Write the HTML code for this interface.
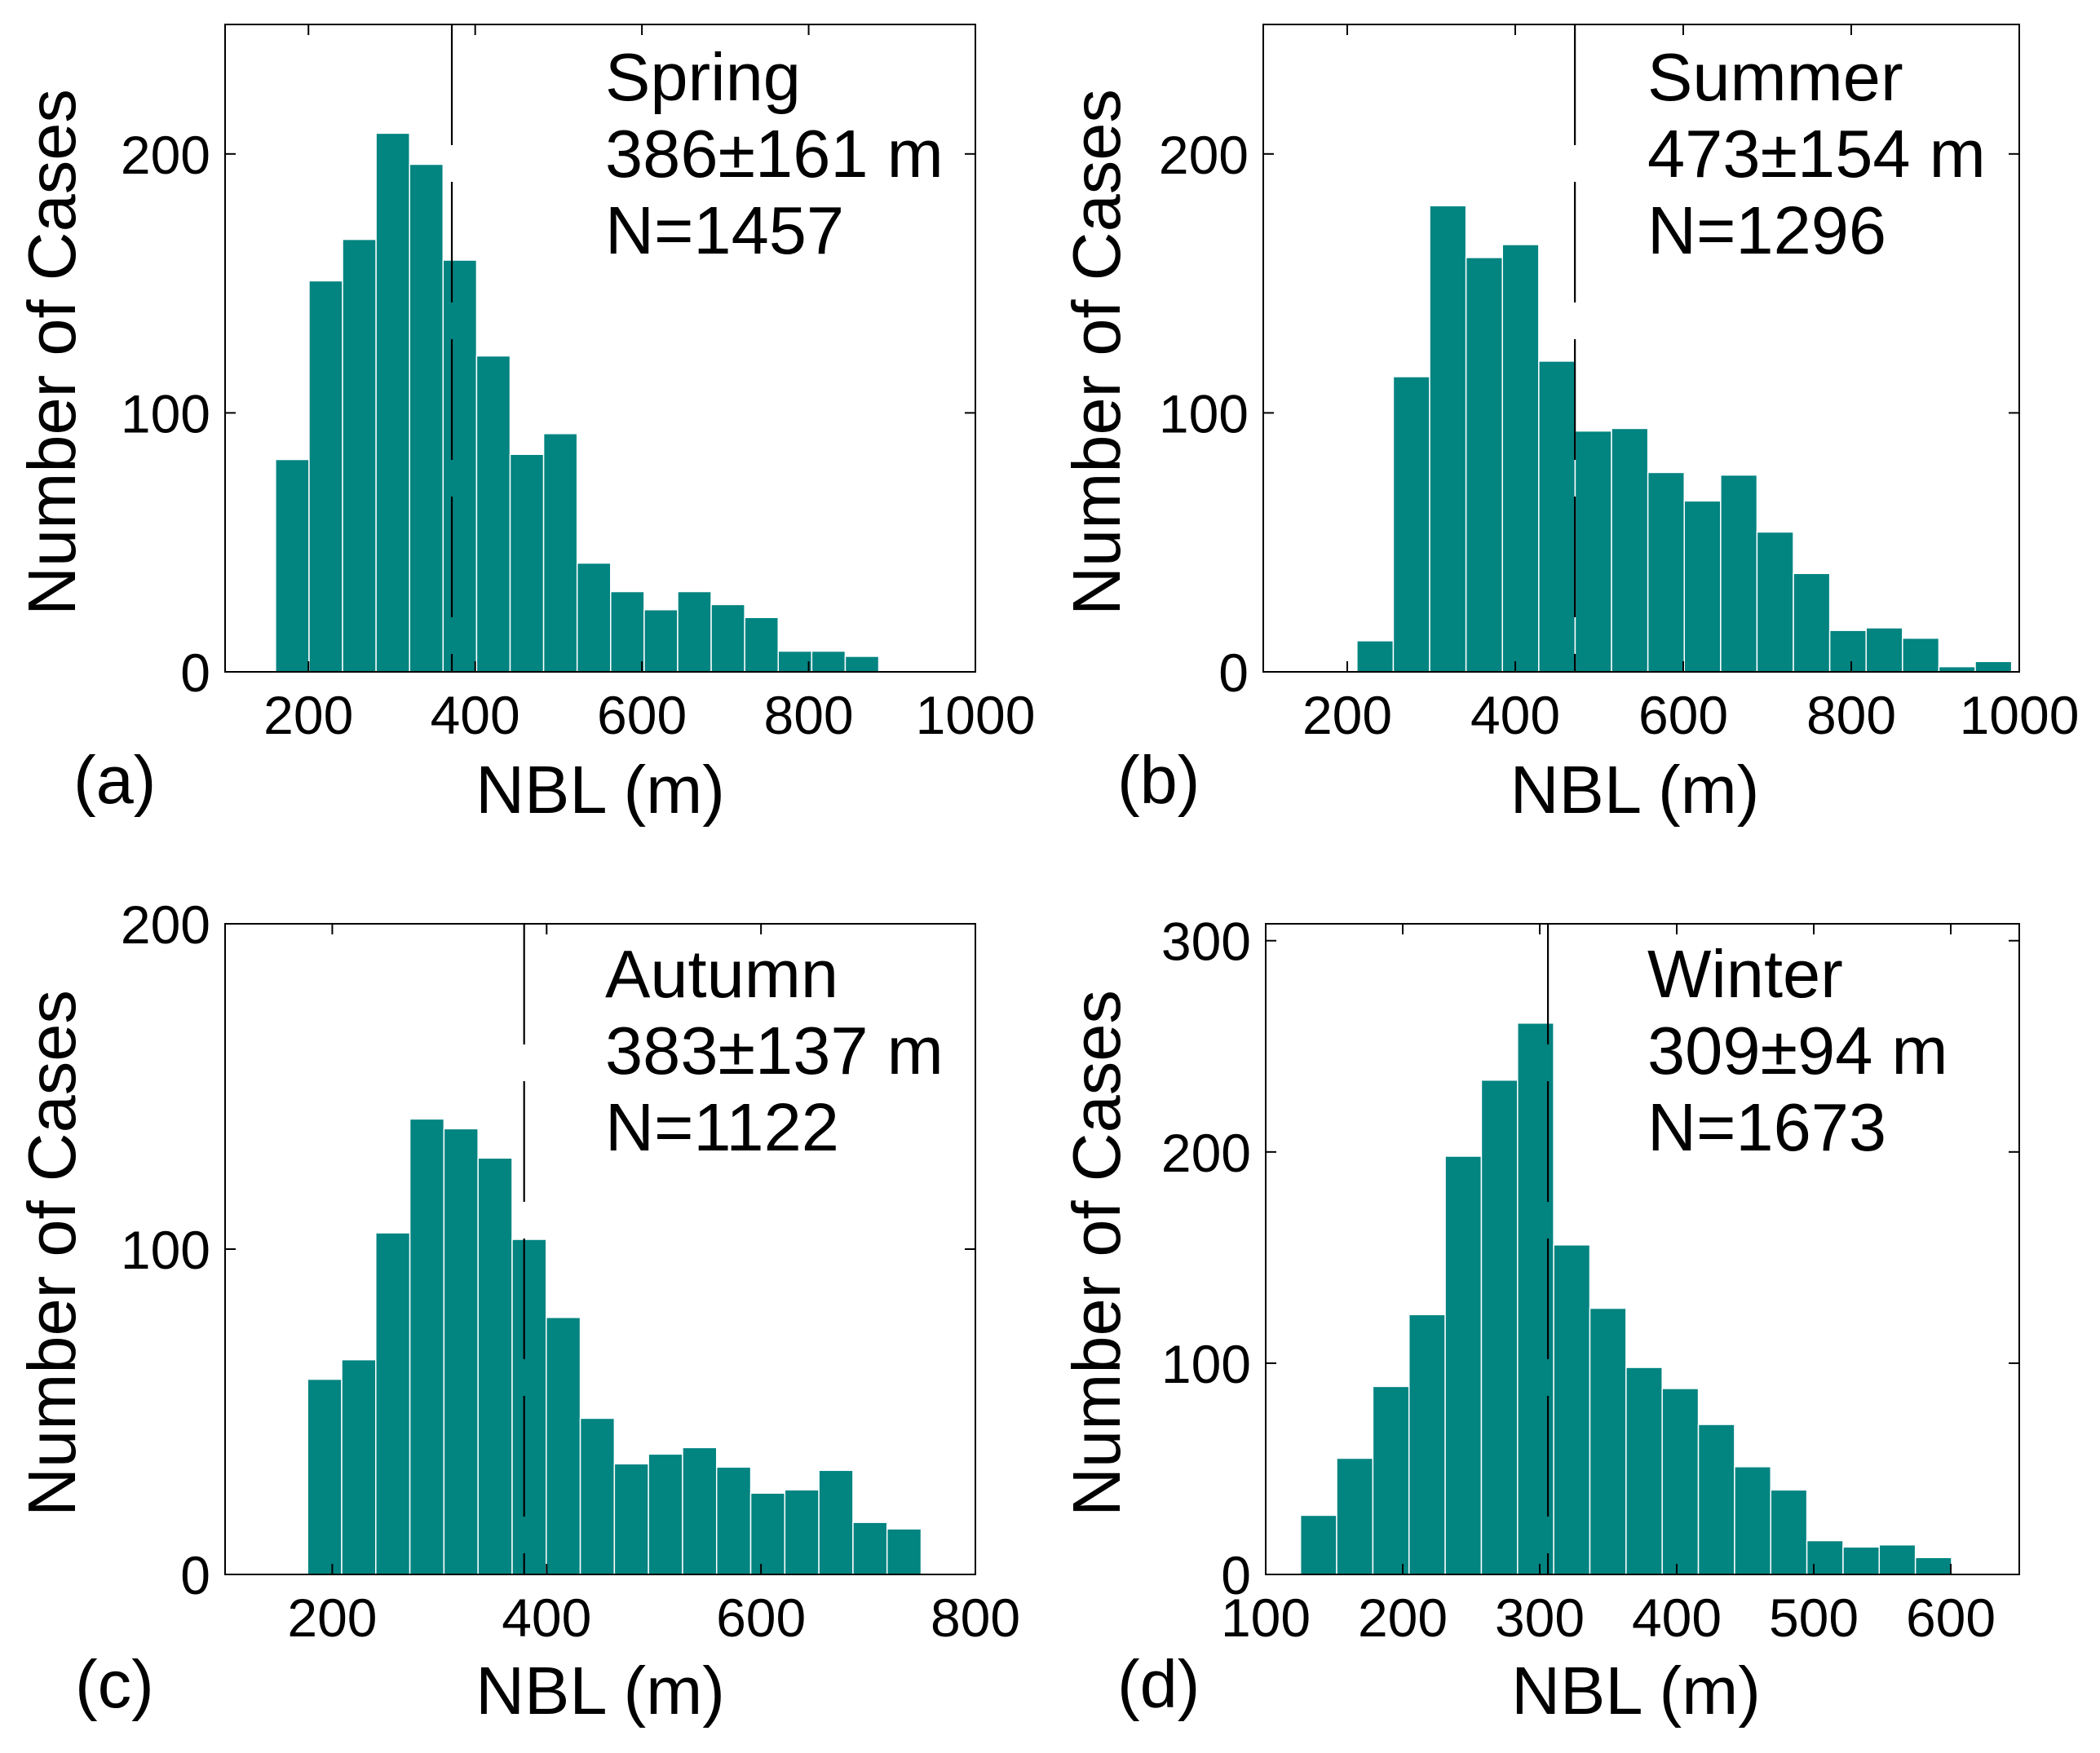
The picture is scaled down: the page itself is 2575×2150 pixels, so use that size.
<!DOCTYPE html>
<html><head><meta charset="utf-8"><style>
html,body{margin:0;padding:0;background:#fff}
svg{display:block}
text{font-family:"Liberation Sans",Arial,sans-serif;fill:#000}
</style></head>
<body>
<svg id="fig" width="2575" height="2150" viewBox="0 0 2575 2150" xmlns="http://www.w3.org/2000/svg"></svg>
<script>
// ---- data ----
const springCounts = [82,151,167,208,196,159,122,84,92,42,31,24,31,26,21,8,8,6];
const summerCounts = [12,114,180,160,165,120,93,94,77,66,76,54,38,16,17,13,2,4];
const autumnCounts = [60,66,105,140,137,128,103,79,48,34,37,39,33,25,26,32,16,14];
const winterCounts = [28,55,89,123,198,234,261,156,126,98,88,71,51,40,16,13,14,8];
const binStarts = [160.5, 211.5, 177, 125.4];
const binWidths = [40.2, 43.3, 31.8, 26.4];
const meanLines = [372, 471, 379, 306];
const seasonNames = ["Spring","Summer","Autumn","Winter"];
const meanLabels = ["386±161 m","473±154 m","383±137 m","309±94 m"];
const nLabels = ["N=1457","N=1296","N=1122","N=1673"];
const panelLetters = ["(a)","(b)","(c)","(d)"];
const xTicksA = [200,400,600,800,1000];
const xTicksC = [200,400,600,800];
const xTicksD = [100,200,300,400,500,600];
const yTicksAB = [0,100,200];
const yTicksC = [0,100,200];
const yTicksD = [0,100,200,300];
const xLims = [[100,1000],[100,1000],[100,800],[100,650]];
const yLims = [[0,250],[0,250],[0,200],[0,308]];

const NS = "http://www.w3.org/2000/svg";
const svg = document.getElementById('fig');
function mk(tag, attrs, parent){
  const e = document.createElementNS(NS, tag);
  for (const k in attrs) e.setAttribute(k, attrs[k]);
  (parent||svg).appendChild(e);
  return e;
}
const panels = [
  {L:276,R:1196,T:30,B:824,counts:springCounts,xt:xTicksA,yt:yTicksAB,ylabX:92,ann:742,letX:90,letY:985,tickY:900,xlabY:997},
  {L:1549,R:2476,T:30,B:824,counts:summerCounts,xt:xTicksA,yt:yTicksAB,ylabX:1373,ann:2020,letX:1370,letY:985,tickY:900,xlabY:997},
  {L:276,R:1196,T:1133,B:1931,counts:autumnCounts,xt:xTicksC,yt:yTicksC,ylabX:92,ann:742,letX:92,letY:2094,tickY:2007,xlabY:2102},
  {L:1552,R:2476,T:1133,B:1931,counts:winterCounts,xt:xTicksD,yt:yTicksD,ylabX:1373,ann:2020,letX:1370,letY:2094,tickY:2007,xlabY:2102}
];
panels.forEach((p,i)=>{
  const g = mk('g',{});
  
  
  const [x0,x1] = xLims[i], [y0,y1] = yLims[i];
  const sx = v => p.L + (v-x0)/(x1-x0)*(p.R-p.L);
  const sy = v => p.B - (v-y0)/(y1-y0)*(p.B-p.T);
  p.counts.forEach((c,k)=>{
    const a = binStarts[i] + k*binWidths[i], b = a + binWidths[i];
    const r = mk('rect',{x:sx(a),y:sy(c),width:sx(b)-sx(a),height:sy(0)-sy(c),fill:'#028481',stroke:'#fff','stroke-width':1.5},g);
    
    
  });
  const ml = mk('line',{x1:sx(meanLines[i]),x2:sx(meanLines[i]),y1:p.T,y2:p.B,stroke:'#000','stroke-width':2.2,'stroke-dasharray':'148 45'},g);
  
  
  const fr = mk('rect',{x:p.L,y:p.T,width:p.R-p.L,height:p.B-p.T,fill:'none',stroke:'#000','stroke-width':2},g);
  
  
  p.xt.forEach(v=>{
    const x = sx(v);
    mk('line',{x1:x,x2:x,y1:p.B,y2:p.B-13,stroke:'#000','stroke-width':2},g);
    mk('line',{x1:x,x2:x,y1:p.T,y2:p.T+13,stroke:'#000','stroke-width':2},g);
    const t = mk('text',{x:x,y:p.tickY,'font-size':66,'text-anchor':'middle'},g);
    t.textContent = v;
    
    
  });
  p.yt.forEach(v=>{
    const y = sy(v);
    mk('line',{x1:p.L,x2:p.L+13,y1:y,y2:y,stroke:'#000','stroke-width':2},g);
    mk('line',{x1:p.R,x2:p.R-13,y1:y,y2:y,stroke:'#000','stroke-width':2},g);
    const t = mk('text',{x:p.L-18,y:y+24,'font-size':66,'text-anchor':'end'},g);
    t.textContent = v;
    
    
  });
  const cy = (p.T+p.B)/2 + 5;
  const yl = mk('text',{x:p.ylabX,y:cy,'font-size':83,'text-anchor':'middle',transform:`rotate(-90 ${p.ylabX} ${cy})`},g);
  yl.textContent = 'Number of Cases';
  
  
  const xl = mk('text',{x:(p.L+p.R)/2-(i%2?8:0),y:p.xlabY,'font-size':83,'text-anchor':'middle'},g);
  xl.textContent = 'NBL (m)';
  
  
  const lt = mk('text',{x:p.letX,y:p.letY,'font-size':83},g);
  lt.textContent = panelLetters[i];
  
  
  const base = i<2 ? 123 : 1223;
  [seasonNames[i], meanLabels[i], nLabels[i]].forEach((s,k)=>{
    const t = mk('text',{x:p.ann,y:base+k*94,'font-size':83},g);
    t.textContent = s;
    
    
  });
});
</script>
</body></html>
